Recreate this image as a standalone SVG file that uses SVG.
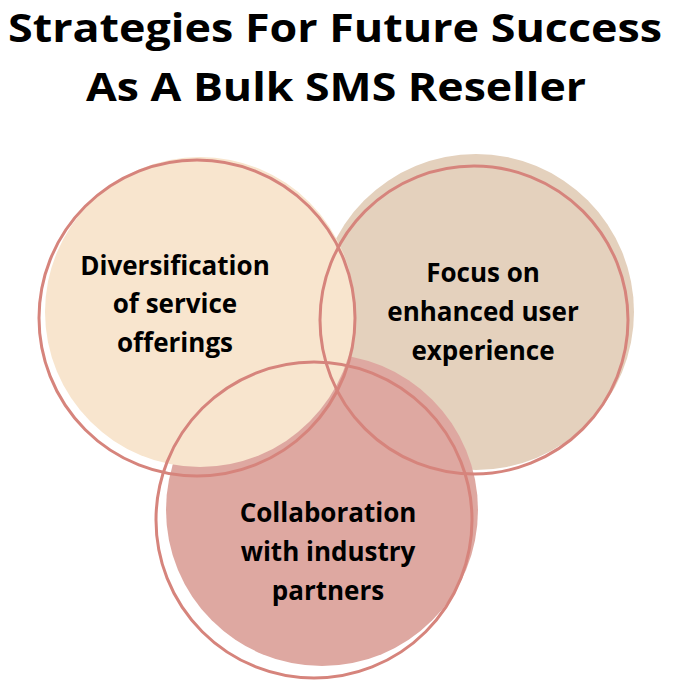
<svg xmlns="http://www.w3.org/2000/svg" width="686" height="681" viewBox="0 0 686 681">
<style>
.t{font-family:"Open Sans","Liberation Sans",sans-serif;font-weight:700;fill:#000;text-anchor:middle}
.h{font-size:40px}
.l{font-size:26px}
.o{fill:none;stroke:#D6847C;stroke-width:3}
</style>
<rect width="686" height="681" fill="#fff"/>
<g id="title"><text class="t h" x="335" y="42" textLength="654" lengthAdjust="spacingAndGlyphs">Strategies For Future Success</text><text class="t h" x="336" y="101" textLength="500" lengthAdjust="spacingAndGlyphs">As A Bulk SMS Reseller</text></g>
<g id="right"><circle cx="476" cy="312" r="158" fill="#E4D1BD"/></g>
<g id="bottom"><circle cx="322" cy="510" r="156" fill="#DEA8A1"/></g>
<g id="left"><circle cx="200" cy="312" r="155" fill="#F8E5CE"/></g>
<g id="connectors">
<circle class="o" cx="197" cy="318" r="158"/>
<circle class="o" cx="474" cy="320" r="154"/>
<circle class="o" cx="314" cy="520" r="158"/>
</g>
<g id="labels">
<text class="t l" x="175" y="275">Diversification</text><text class="t l" x="175" y="313">of service</text><text class="t l" x="175" y="352">offerings</text>
<text class="t l" x="483" y="282">Focus on</text><text class="t l" x="483" y="321">enhanced user</text><text class="t l" x="483" y="360">experience</text>
<text class="t l" x="328" y="522">Collaboration</text><text class="t l" x="328" y="561">with industry</text><text class="t l" x="328" y="600">partners</text>
</g>
</svg>
